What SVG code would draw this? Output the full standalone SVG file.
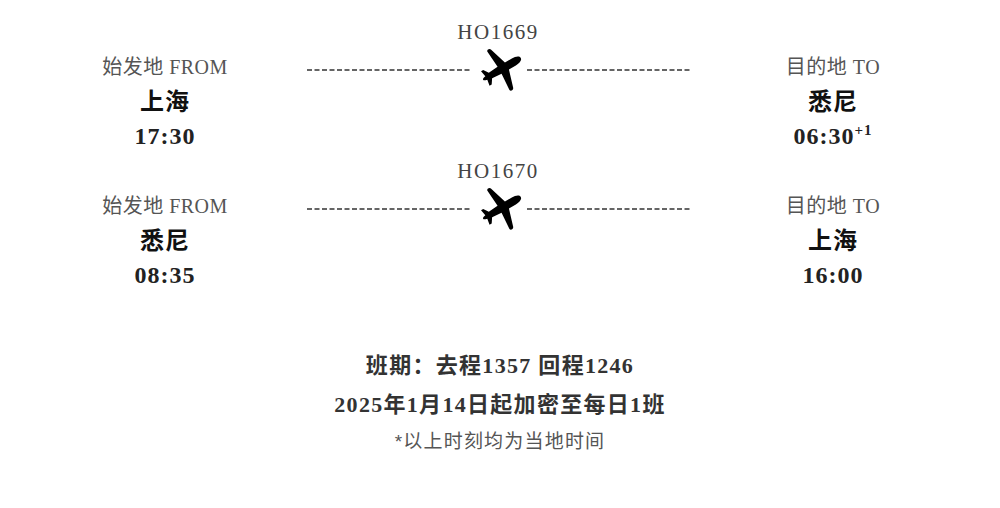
<svg xmlns="http://www.w3.org/2000/svg" width="1000" height="508" viewBox="0 0 1000 508">
<style>
.lbl{font-family:'Liberation Serif','Noto Sans CJK SC',serif;font-size:20px;fill:#555;letter-spacing:0.5px;text-anchor:middle}
.city{font-family:'Liberation Serif','Noto Sans CJK SC',serif;font-size:24px;font-weight:bold;fill:#111;letter-spacing:1px;text-anchor:middle}
.time{font-family:'Liberation Serif','Noto Sans CJK SC',serif;font-size:24px;font-weight:bold;fill:#222;letter-spacing:1px;text-anchor:middle}
.sup{font-size:15px}
.flt{font-family:'Liberation Serif','Noto Sans CJK SC',serif;font-size:21px;fill:#444;letter-spacing:1.5px;text-anchor:middle}
.dash{stroke:#333;stroke-width:1.5;stroke-dasharray:5 2.5;fill:none}
.plane{fill:#000}
.info{font-family:'Liberation Serif','Noto Sans CJK SC',serif;font-size:22px;font-weight:bold;fill:#333;letter-spacing:1.3px;text-anchor:middle}
.note{font-family:'Liberation Sans','Noto Sans CJK SC',sans-serif;font-size:19px;fill:#555;letter-spacing:1.2px;text-anchor:middle}
</style>
<defs>
<path id="plane" d="M0,-24 C2.8,-24 4,-20 4,-16 L4,-8 L22,-2.5 C24.2,-1.8 24.2,1.8 22,1.8 L4,0.5 L3.3,11 L8.5,14.5 L8.5,17 L2,15.8 C1.5,18.5 0.8,19.5 0,19.5 C-0.8,19.5 -1.5,18.5 -2,15.8 L-8.5,17 L-8.5,14.5 L-3.3,11 L-4,0.5 L-22,1.8 C-24.2,1.8 -24.2,-1.8 -22,-2.5 L-4,-8 L-4,-16 C-4,-20 -2.8,-24 0,-24 Z"/>
</defs>
<rect width="1000" height="508" fill="#fff"/>
<g id="connectors">
<line class="dash" x1="307" y1="70" x2="472" y2="70"/>
<line class="dash" x1="527" y1="70" x2="690" y2="70"/>
<line class="dash" x1="307" y1="209" x2="472" y2="209"/>
<line class="dash" x1="527" y1="209" x2="690" y2="209"/>
</g>
<g id="flight1">
<text class="flt" x="498" y="39">HO1669</text>
<use href="#plane" class="plane" transform="translate(500,70) rotate(60)"/>
</g>
<g id="from1">
<text class="lbl" x="165" y="74">始发地 FROM</text>
<text class="city" x="165" y="110">上海</text>
<text class="time" x="165" y="144">17:30</text>
</g>
<g id="to1">
<text class="lbl" x="833" y="74">目的地 TO</text>
<text class="city" x="833" y="110">悉尼</text>
<text class="time" x="833" y="144">06:30<tspan class="sup" dy="-9">+1</tspan></text>
</g>
<g id="flight2">
<text class="flt" x="498" y="178">HO1670</text>
<use href="#plane" class="plane" transform="translate(500,209) rotate(60)"/>
</g>
<g id="from2">
<text class="lbl" x="165" y="213">始发地 FROM</text>
<text class="city" x="165" y="249">悉尼</text>
<text class="time" x="165" y="283">08:35</text>
</g>
<g id="to2">
<text class="lbl" x="833" y="213">目的地 TO</text>
<text class="city" x="833" y="249">上海</text>
<text class="time" x="833" y="283">16:00</text>
</g>
<g id="schedule">
<text class="info" x="500" y="373">班期：去程1357 回程1246</text>
<text class="info" x="500" y="412">2025年1月14日起加密至每日1班</text>
<text class="note" x="500" y="448">*以上时刻均为当地时间</text>
</g>
</svg>
